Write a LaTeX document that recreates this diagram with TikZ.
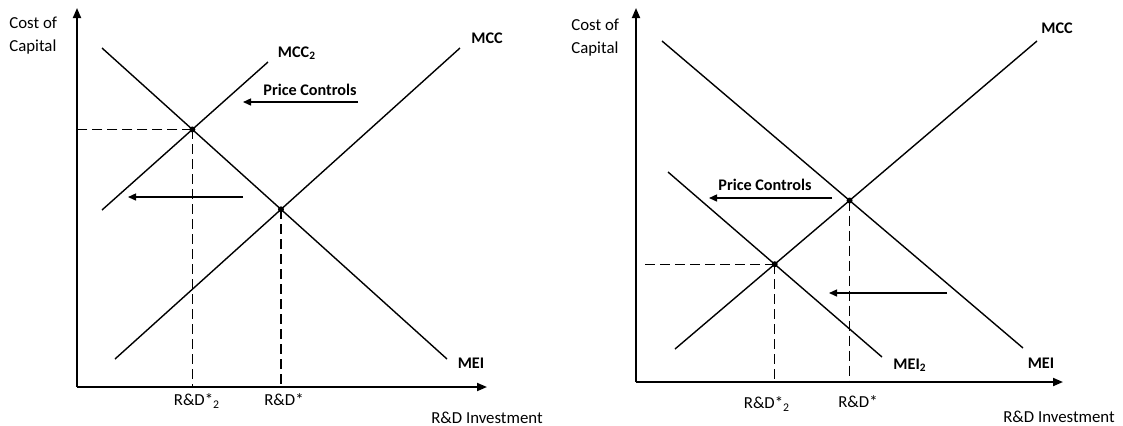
\documentclass[tikz,border=0pt]{standalone}
\usepackage{fontspec}
\setmainfont{Carlito}
\usetikzlibrary{arrows.meta}

\tikzset{
  axis/.style={line width=0.9pt, -{Triangle[length=5pt,width=4pt]}},
  curve/.style={line width=0.7pt},
  guide/.style={line width=0.7pt, dash pattern=on 5pt off 2.5pt},
  shiftarrow/.style={line width=0.7pt, -{Triangle[length=4pt,width=3.5pt]}},
  dot/.style={circle, fill, inner sep=0pt, minimum size=3pt},
  lbl/.style={font=\fontsize{8.4}{11.5}\selectfont, inner sep=0pt},
  curvelbl/.style={font=\fontsize{8.1}{10}\selectfont\bfseries, inner sep=0pt},
}

\begin{document}
\begin{tikzpicture}[x=0.5pt,y=-0.5pt]
    \useasboundingbox (0,0) rectangle (1123,425);

    % left: price controls shift MCC
    \coordinate(o1) at (77,387);
    \coordinate(y1) at (77,8);
    \coordinate(x1) at (487,387);

    \coordinate(mei1a) at (102,48);
    \coordinate(mei1b) at (447,359);
    \coordinate(mcc1a) at (115,359);
    \coordinate(mcc1b) at (460,48);
    \coordinate(mcc2a) at (102,210);
    \coordinate(mcc2b) at (268,62);

    \draw[axis] (o1) -- (y1);
    \draw[axis] (o1) -- (x1);

    \draw[curve] (mei1a) -- (mei1b);
    \draw[curve] (mcc1a) -- (mcc1b);
    \draw[curve] (mcc2a) -- (mcc2b);

    \node[dot](eq1) at (intersection of mei1a--mei1b and mcc1a--mcc1b){};
    \node[dot](eq2) at (intersection of mei1a--mei1b and mcc2a--mcc2b){};

    \draw[guide] (eq2.center) -- (eq2.center -| o1);
    \draw[guide] (eq2.center) -- (eq2.center |- o1);
    \draw[guide] (eq1.center) -- (eq1.center |- o1);

    \coordinate(pc1a) at (358,102);
    \coordinate(pc1b) at (243,102);
    \coordinate(sh1a) at (243,197);
    \coordinate(sh1b) at (128,197);
    \draw[shiftarrow] (pc1a) -- (pc1b);
    \draw[shiftarrow] (sh1a) -- (sh1b);

    \node[lbl, align=left, anchor=west](cc1) at (9,36){Cost of\\Capital};
    \node[curvelbl](mcc2l) at (297,53){MCC\textsubscript{2}};
    \node[curvelbl](mcc1l) at (487,38){MCC};
    \node[curvelbl](pc1l) at (310,90){Price Controls};
    \node[curvelbl](mei1l) at (471,363){MEI};
    \node[lbl](rd2l) at (197,401){R\&D*\textsubscript{2}};
    \node[lbl](rd1l) at (284,400){R\&D*};
    \node[lbl](inv1l) at (487,418){R\&D Investment};

    % right: price controls shift MEI
    \coordinate(o2) at (636,382);
    \coordinate(y2) at (636,8);
    \coordinate(x2) at (1063,382);

    \coordinate(mei2a) at (662,41);
    \coordinate(mei2b) at (1023,348);
    \coordinate(mcc3a) at (675,349);
    \coordinate(mcc3b) at (1037,41);
    \coordinate(meib) at (668,172);
    \coordinate(meic) at (882,357);

    \draw[axis] (o2) -- (y2);
    \draw[axis] (o2) -- (x2);

    \draw[curve] (mei2a) -- (mei2b);
    \draw[curve] (mcc3a) -- (mcc3b);
    \draw[curve] (meib) -- (meic);

    \node[dot](eq3) at (intersection of mei2a--mei2b and mcc3a--mcc3b){};
    \node[dot](eq4) at (intersection of meib--meic and mcc3a--mcc3b){};

    \draw[guide] (eq4.center) -- ([xshift=2pt]eq4.center -| o2);
    \draw[guide] (eq4.center) -- (eq4.center |- o2);
    \draw[guide] (eq3.center) -- (eq3.center |- o2);

    \coordinate(pc2a) at (832,198);
    \coordinate(pc2b) at (709,198);
    \coordinate(sh2a) at (947,293);
    \coordinate(sh2b) at (829,293);
    \draw[shiftarrow] (pc2a) -- (pc2b);
    \draw[shiftarrow] (sh2a) -- (sh2b);

    \node[lbl, align=left, anchor=west](cc2) at (571,38){Cost of\\Capital};
    \node[curvelbl](mcc3l) at (1057,28){MCC};
    \node[curvelbl](pc2l) at (765,185){Price Controls};
    \node[curvelbl](mei3l) at (910,365){MEI\textsubscript{2}};
    \node[curvelbl](mei2l) at (1041,363){MEI};
    \node[lbl](rd4l) at (767,404){R\&D*\textsubscript{2}};
    \node[lbl](rd3l) at (858,402){R\&D*};
    \node[lbl](inv2l) at (1059,417){R\&D Investment};

  \end{tikzpicture}
\end{document}
